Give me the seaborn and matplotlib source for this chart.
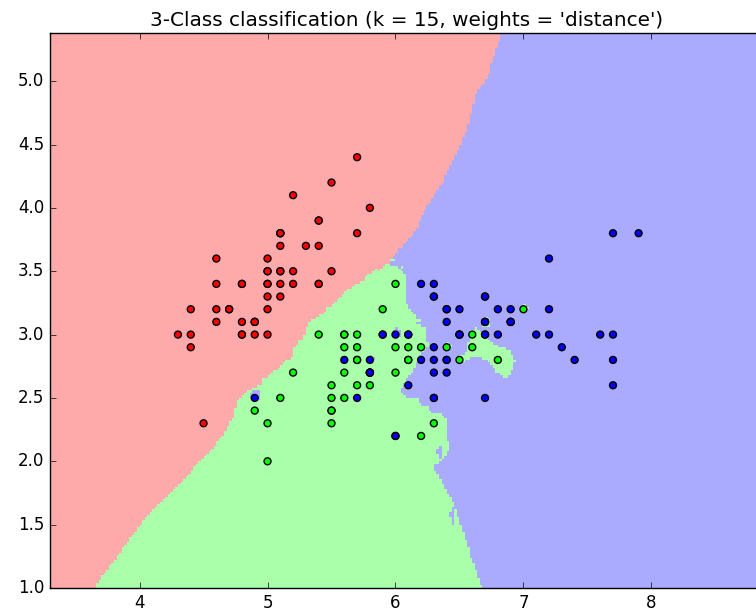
import numpy as np
import pandas as pd
import seaborn as sb
from matplotlib import pyplot as plt
from matplotlib.colors import ListedColormap

N_NEIGHBORS = 15
STEP = 0.02

# iris sepal length / sepal width, per class (older UCI version of the data)
setosa_len = [5.1, 4.9, 4.7, 4.6, 5.0, 5.4, 4.6, 5.0, 4.4, 4.9, 5.4, 4.8, 4.8, 4.3, 5.8, 5.7, 5.4,
              5.1, 5.7, 5.1, 5.4, 5.1, 4.6, 5.1, 4.8, 5.0, 5.0, 5.2, 5.2, 4.7, 4.8, 5.4, 5.2, 5.5,
              4.9, 5.0, 5.5, 4.9, 4.4, 5.1, 5.0, 4.5, 4.4, 5.0, 5.1, 4.8, 5.1, 4.6, 5.3, 5.0]
setosa_wid = [3.5, 3.0, 3.2, 3.1, 3.6, 3.9, 3.4, 3.4, 2.9, 3.1, 3.7, 3.4, 3.0, 3.0, 4.0, 4.4, 3.9,
              3.5, 3.8, 3.8, 3.4, 3.7, 3.6, 3.3, 3.4, 3.0, 3.4, 3.5, 3.4, 3.2, 3.1, 3.4, 4.1, 4.2,
              3.1, 3.2, 3.5, 3.1, 3.0, 3.4, 3.5, 2.3, 3.2, 3.5, 3.8, 3.0, 3.8, 3.2, 3.7, 3.3]
versicolor_len = [7.0, 6.4, 6.9, 5.5, 6.5, 5.7, 6.3, 4.9, 6.6, 5.2, 5.0, 5.9, 6.0, 6.1, 5.6, 6.7, 5.6,
                  5.8, 6.2, 5.6, 5.9, 6.1, 6.3, 6.1, 6.4, 6.6, 6.8, 6.7, 6.0, 5.7, 5.5, 5.5, 5.8, 6.0,
                  5.4, 6.0, 6.7, 6.3, 5.6, 5.5, 5.5, 6.1, 5.8, 5.0, 5.6, 5.7, 5.7, 6.2, 5.1, 5.7]
versicolor_wid = [3.2, 3.2, 3.1, 2.3, 2.8, 2.8, 3.3, 2.4, 2.9, 2.7, 2.0, 3.0, 2.2, 2.9, 2.9, 3.1, 3.0,
                  2.7, 2.2, 2.5, 3.2, 2.8, 2.5, 2.8, 2.9, 3.0, 2.8, 3.0, 2.9, 2.6, 2.4, 2.4, 2.7, 2.7,
                  3.0, 3.4, 3.1, 2.3, 3.0, 2.5, 2.6, 3.0, 2.6, 2.3, 2.7, 3.0, 2.9, 2.9, 2.5, 2.8]
virginica_len = [6.3, 5.8, 7.1, 6.3, 6.5, 7.6, 4.9, 7.3, 6.7, 7.2, 6.5, 6.4, 6.8, 5.7, 5.8, 6.4, 6.5,
                 7.7, 7.7, 6.0, 6.9, 5.6, 7.7, 6.3, 6.7, 7.2, 6.2, 6.1, 6.4, 7.2, 7.4, 7.9, 6.4, 6.3,
                 6.1, 7.7, 6.3, 6.4, 6.0, 6.9, 6.7, 6.9, 5.8, 6.8, 6.7, 6.7, 6.3, 6.5, 6.2, 5.9]
virginica_wid = [3.3, 2.7, 3.0, 2.9, 3.0, 3.0, 2.5, 2.9, 2.5, 3.6, 3.2, 2.7, 3.0, 2.5, 2.8, 3.2, 3.0,
                 3.8, 2.6, 2.2, 3.2, 2.8, 2.8, 2.7, 3.3, 3.2, 2.8, 3.0, 2.8, 3.0, 2.8, 3.8, 2.8, 2.8,
                 2.6, 3.0, 3.4, 3.1, 3.0, 3.1, 3.1, 3.1, 2.7, 3.2, 3.3, 3.0, 2.5, 3.0, 3.4, 3.0]

light_colors = ['#FFAAAA', '#AAFFAA', '#AAAAFF']
bold_colors = ['#FF0000', '#00FF00', '#0000FF']


def knn_predict(X, y, points, k):
    """
    Distance weighted k nearest neighbours vote, same idea as
    KNeighborsClassifier(weights='distance'). Equal distances go to
    the later sample, like the tree search did in the reference.
    """
    X, y = X[::-1], y[::-1]
    d = np.sqrt(((points[:, None, :] - X[None, :, :]) ** 2).sum(axis=2))
    idx = np.argsort(d, axis=1, kind='stable')[:, :k]
    nd = np.take_along_axis(d, idx, axis=1)
    with np.errstate(divide='ignore'):
        w = 1.0 / nd
    zero = nd == 0
    has_zero = zero.any(axis=1)
    w[has_zero] = zero[has_zero].astype(float)
    labels = y[idx]
    votes = np.zeros((len(points), 3))
    for c in range(3):
        votes[:, c] = (w * (labels == c)).sum(axis=1)
    return votes.argmax(axis=1)


def main():
    df = pd.DataFrame({
        'length': setosa_len + versicolor_len + virginica_len,
        'width': setosa_wid + versicolor_wid + virginica_wid,
        'label': [0] * len(setosa_len) + [1] * len(versicolor_len) + [2] * len(virginica_len),
    })
    X = df[['length', 'width']].to_numpy()
    y = df['label'].to_numpy()

    x_min, x_max = X[:, 0].min() - 1, X[:, 0].max() + 1
    y_min, y_max = X[:, 1].min() - 1, X[:, 1].max() + 1
    xx, yy = np.meshgrid(np.arange(x_min, x_max, STEP), np.arange(y_min, y_max, STEP))
    Z = knn_predict(X, y, np.c_[xx.ravel(), yy.ravel()], N_NEIGHBORS).reshape(xx.shape)

    plt.style.use('classic')
    fig = plt.figure(figsize=(7.56, 6.16), dpi=100)
    ax = fig.add_axes([50 / 756, 28 / 616, 714 / 756, 555 / 616])
    # old style flat shading: last row / column of Z dropped
    ax.pcolormesh(xx, yy, Z[:-1, :-1], cmap=ListedColormap(light_colors), shading='flat')

    sb.scatterplot(data=df, x='length', y='width', hue='label', palette=bold_colors,
                   edgecolor='k', linewidth=1, s=25, legend=False, ax=ax, zorder=3)
    ax.set_xlim(xx.min(), xx.max())
    ax.set_ylim(yy.min(), yy.max())
    ax.set_xlabel('')
    ax.set_ylabel('')
    ax.set_title("3-Class classification (k = %i, weights = '%s')" % (N_NEIGHBORS, 'distance'))
    fig.savefig('out.png', dpi=100)
    plt.close()


if __name__ == '__main__':
    main()
